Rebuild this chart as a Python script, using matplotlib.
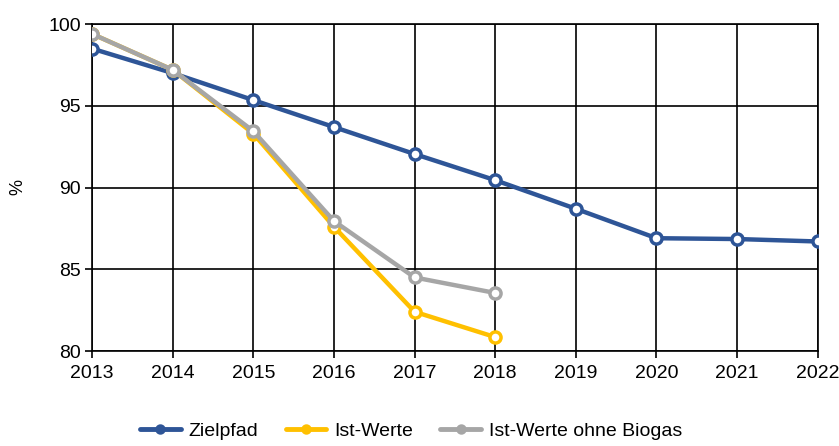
import matplotlib
matplotlib.use('Agg')
import matplotlib.pyplot as plt

plt.rcParams['font.family'] = ['Liberation Sans', 'DejaVu Sans']

years = [2013, 2014, 2015, 2016, 2017, 2018, 2019, 2020, 2021, 2022]
zielpfad = [98.5, 97.0, 95.35, 93.7, 92.05, 90.45, 88.7, 86.9, 86.85, 86.7]
ist_years = [2013, 2014, 2015, 2016, 2017, 2018]
ist_werte = [99.4, 97.2, 93.3, 87.6, 82.4, 80.85]
ist_ohne_biogas = [99.4, 97.2, 93.45, 87.95, 84.5, 83.55]

fig = plt.figure(figsize=(8.39, 4.46), dpi=100)
ax = fig.add_axes([0.1097, 0.213, 0.865, 0.733])

series = [
    (years, zielpfad, '#2E5597', 'Zielpfad'),
    (ist_years, ist_werte, '#FFC000', 'Ist-Werte'),
    (ist_years, ist_ohne_biogas, '#A6A6A6', 'Ist-Werte ohne Biogas'),
]
for xs, ys, col, lab in series:
    ax.plot(xs, ys, color=col, lw=3.2, marker='o', ms=8, mfc='white',
            mec=col, mew=2.5, label=lab, zorder=3, solid_capstyle='round')

ax.set_xlim(2013, 2022)
ax.set_ylim(80, 100)
ax.set_xticks(years)
ax.set_yticks([80, 85, 90, 95, 100])
ax.grid(True, color='black', lw=1.2)
ax.tick_params(axis='both', labelsize=14, length=5, width=1.2, colors='black')
ax.tick_params(axis='x', pad=5)
ax.tick_params(axis='y', pad=3)
for s in ax.spines.values():
    s.set_color('black')
    s.set_linewidth(1.2)
fig.text(18 / 839, 1 - 187 / 446, '%', rotation=90, fontsize=13,
         ha='center', va='center')

leg = fig.legend(loc='lower center', bbox_to_anchor=(0.49, -0.025), ncol=3,
                 frameon=False, fontsize=14, handlelength=2.1, columnspacing=1.4,
                 handletextpad=0.4)
for h in leg.legend_handles:
    h.set_markersize(5)
    h.set_markerfacecolor(h.get_color())
    h.set_linewidth(3.5)

fig.savefig('out.png', dpi=100)
